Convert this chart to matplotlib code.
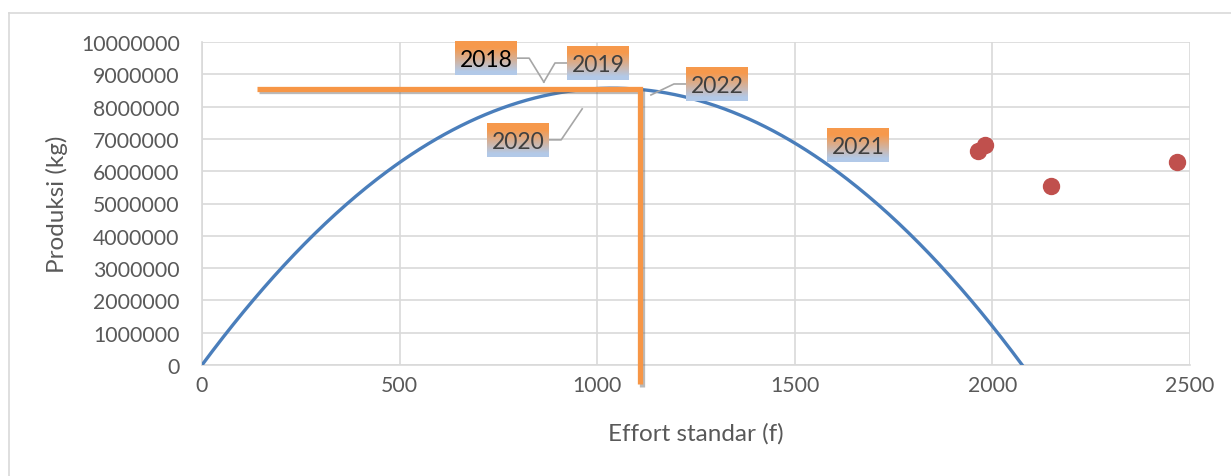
import matplotlib.pyplot as plt
import matplotlib.patheffects as pe
from matplotlib.lines import Line2D
import numpy as np

plt.rcParams['font.family'] = ['Lato', 'DejaVu Sans']

# Schaefer curve, Y = a*f + b*f^2
a = 16520.0
b = -7.96

# observed effort and production
effort = [1964, 1982, 2149, 2467]
produksi = [6610000, 6800000, 5530000, 6270000]

# optimum effort / MSY guide lines
f_opt = 1108
msy = 8560000
f_line_start = 139
y_line_end = -590000

# year labels and where their leader lines point
years = ['2018', '2019', '2020', '2021', '2022']
label_x = [719, 1002, 800, 1660, 1303]
label_y = [9500000, 9350000, 6970000, 6810000, 8700000]
lead_x = [865, 865, 962, None, 1136]
lead_y = [8760000, 8760000, 7930000, None, 8360000]
year_colors = ['#000000', '#404040', '#404040', '#404040', '#404040']

W, H = 1231, 477
fig = plt.figure(figsize=(W / 100, H / 100), dpi=100)
ax = fig.add_axes([202 / W, 1 - 366 / H, (1190 - 202) / W, (366 - 43) / H])

grid = '#d9d9d9'
txt = '#595959'

ax.set_xlim(0, 2500)
ax.set_ylim(0, 10000000)
ax.set_xticks(np.arange(0, 2501, 500))
ax.set_yticks(np.arange(0, 10000001, 1000000))
ax.yaxis.set_major_formatter(plt.FuncFormatter(lambda v, p: f'{int(v)}'))
ax.grid(True, color=grid, lw=1.2)
ax.set_axisbelow(True)
for s in ['top', 'right']:
    ax.spines[s].set_visible(False)
for s in ['left', 'bottom']:
    ax.spines[s].set_color(grid)
    ax.spines[s].set_linewidth(1.2)
ax.tick_params(axis='both', length=0, labelsize=15.3, colors=txt)
ax.tick_params(axis='y', pad=16)
ax.tick_params(axis='x', pad=7)
ax.set_xlabel('Effort standar (f)', fontsize=17.5, color=txt, labelpad=20)
ax.set_ylabel('Produksi (kg)', fontsize=17.5, color=txt, labelpad=9)

# fitted curve
root = -a / b
f = np.linspace(0, root, 400)
ax.plot(f, a * f + b * f ** 2, color='#4A7EBB', lw=2.4, zorder=3)

# data points
ax.plot(effort, produksi, 'o', color='#C0504D', ms=11.5, zorder=4)

# optimum guide lines with shadow
shadow = [pe.SimpleLineShadow(offset=(1.5, -2), shadow_color='#666666', alpha=0.45),
          pe.Normal()]
ax.plot([f_line_start, f_opt, f_opt], [msy, msy, y_line_end], color='#F79646',
        lw=3.8, clip_on=False, zorder=5, path_effects=shadow,
        solid_joinstyle='miter', solid_capstyle='butt')

# gradient used for the label boxes
n = 60
t = np.clip((np.linspace(0, 1, n) - 0.2) / 0.7, 0, 1)[:, None]
top = np.array([0.965, 0.600, 0.300])
bot = np.array([0.700, 0.790, 0.910])
grad = (top * (1 - t) + bot * t)[:, None, :]

bw, bh = 62, 34
for yr, lx, ly, tx, ty, c in zip(years, label_x, label_y, lead_x, lead_y, year_colors):
    cx, cy = ax.transData.transform((lx, ly))
    if tx is not None:
        px, py = ax.transData.transform((tx, ty))
        side = 1 if px > cx else -1
        ex = cx + side * bw / 2
        elx = ex + side * 12
        fig.add_artist(Line2D([ex, elx, px], [cy, cy, py], transform=None,
                              color='#a6a6a6', lw=1.2, zorder=6))
    bax = fig.add_axes([(cx - bw / 2) / W, (cy - bh / 2) / H, bw / W, bh / H], zorder=10)
    bax.imshow(grad, aspect='auto', extent=[0, 1, 0, 1])
    bax.set_xlim(0, 1)
    bax.set_ylim(0, 1)
    bax.axis('off')
    bax.text(0.5, 0.45, yr, ha='center', va='center', fontsize=16.5, color=c)

# outer chart border
fig.add_artist(Line2D([9 / W, 1], [1 - 14 / H, 1 - 14 / H], color=grid, lw=1.2))
fig.add_artist(Line2D([9 / W, 9 / W], [0, 1 - 14 / H], color=grid, lw=1.2))

fig.savefig('out.png', dpi=100)
